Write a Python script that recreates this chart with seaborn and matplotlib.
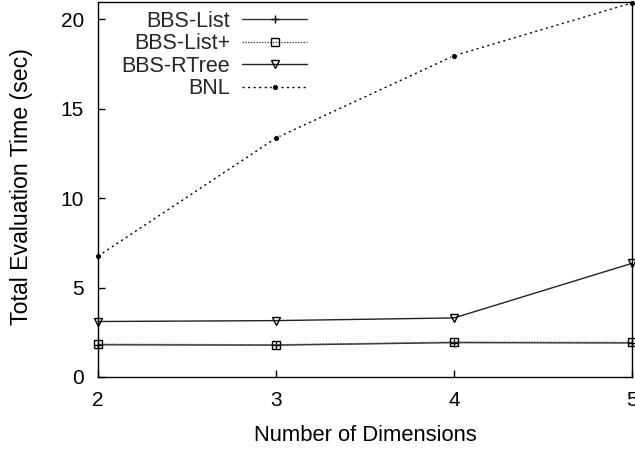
import matplotlib
matplotlib.use("Agg")
import matplotlib.pyplot as plt
import seaborn as sns
import pandas as pd

dimensions = [2, 3, 4, 5]
bbs_list = [1.80, 1.78, 1.92, 1.90]
bbs_list_plus = [1.83, 1.80, 1.95, 1.93]
bbs_rtree = [3.10, 3.15, 3.30, 6.35]
bnl = [6.75, 13.35, 17.95, 20.9]

series_names = ["BBS-List", "BBS-List+", "BBS-RTree", "BNL"]
series_values = [bbs_list, bbs_list_plus, bbs_rtree, bnl]

sns.set_theme(style="white")
plt.rcParams["font.family"] = ["Liberation Sans", "DejaVu Sans"]

rows = []
for name, vals in zip(series_names, series_values):
    for d, v in zip(dimensions, vals):
        rows.append({"dim": d, "time": v, "series": name})
df = pd.DataFrame(rows)

fig = plt.figure(figsize=(6.35, 4.51), dpi=100)
ax = fig.add_axes([98 / 635, 1 - 377 / 451, (632 - 98) / 635, (377 - 2) / 451])

styles = {
    "BBS-List": dict(color="#333333", linestyle="-", marker="+", markersize=6,
                     markeredgewidth=1.0, markeredgecolor="black"),
    "BBS-List+": dict(color="#444444", linestyle=(0, (1, 1)), marker="s", markersize=6,
                      markeredgewidth=1.0, markerfacecolor="none", markeredgecolor="black"),
    "BBS-RTree": dict(color="#222222", linestyle="-", marker="v", markersize=6,
                      markeredgewidth=1.0, markerfacecolor="none", markeredgecolor="black"),
    "BNL": dict(color="black", linestyle=(0, (1.5, 2.5)), marker="o", markersize=4.5,
                markeredgewidth=0.8, markerfacecolor="black"),
}

for name in series_names:
    sub = df[df["series"] == name]
    sns.lineplot(data=sub, x="dim", y="time", ax=ax, label=name, linewidth=1.0,
                 clip_on=False, **styles[name])

ax.set_xlim(2, 5)
ax.set_ylim(0, 20.95)
ax.set_xticks(dimensions)
ax.set_xticklabels([str(d) for d in dimensions])
ax.set_yticks([0, 5, 10, 15, 20])
ax.tick_params(direction="in", length=5, width=1, labelsize=15, colors="black",
               left=True, bottom=True)
ax.tick_params(axis="y", pad=10)
ax.tick_params(axis="x", pad=10)
for s in ax.spines.values():
    s.set_color("black")
    s.set_linewidth(1.0)

ax.set_xlabel("Number of Dimensions", fontsize=15.8, color="black", va="center")
ax.set_ylabel("Total Evaluation Time (sec)", fontsize=16.7, color="black", va="center")
ax.xaxis.set_label_coords(0.5, -0.157)
ax.yaxis.set_label_coords(-0.144, 0.507)

ax.legend(loc="upper right", bbox_to_anchor=(0.391, 0.977), frameon=False,
          markerfirst=False, fontsize=15.5, handlelength=3.0, handletextpad=0.55,
          labelspacing=0.07, borderaxespad=0, borderpad=0)

fig.savefig("out.png", dpi=100)
